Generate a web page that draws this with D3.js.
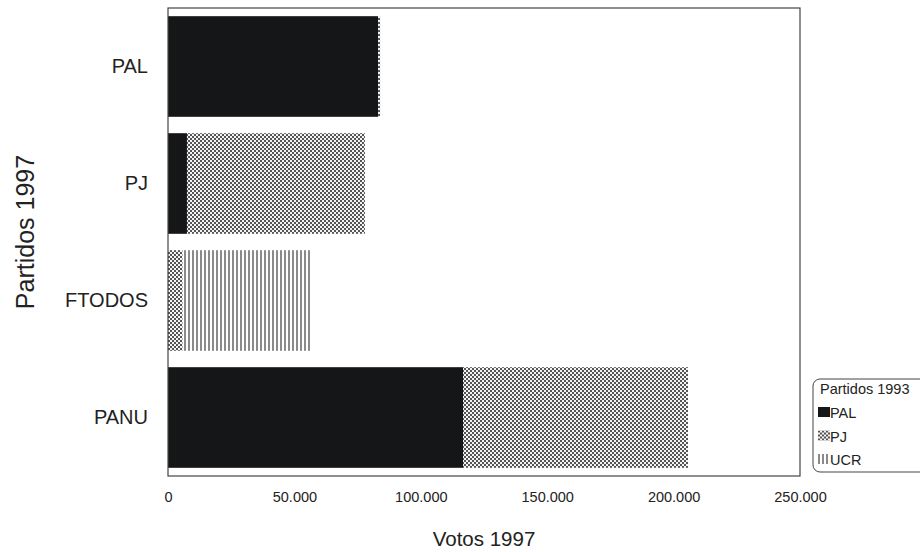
<!DOCTYPE html>
<html>
<head>
<meta charset="utf-8">
<script src="https://cdn.jsdelivr.net/npm/d3@7"></script>
<style>
body { margin: 0; background: #fff; }
text { font-family: "Liberation Sans", Arial, sans-serif; fill: #222; }
</style>
</head>
<body>
<svg width="920" height="552"></svg>
<script>
// data
var partidos97 = ["PAL", "PJ", "FTODOS", "PANU"];
var partidos93 = ["PAL", "PJ", "UCR"];
var votosPAL = [83100, 7500, 0, 116700];
var votosPJ = [800, 70400, 5800, 89000];
var votosUCR = [0, 0, 50800, 0];
var xTicks = [0, 50000, 100000, 150000, 200000, 250000];

var svg = d3.select("svg");
var mLeft = 168, mRight = 800, mTop = 8, mBottom = 476;

var defs = svg.append("defs");
var checker = defs.append("pattern").attr("id", "checker")
    .attr("width", 4).attr("height", 4).attr("patternUnits", "userSpaceOnUse");
checker.append("rect").attr("width", 4).attr("height", 4).attr("fill", "#f4f4f4");
checker.append("rect").attr("width", 2).attr("height", 2).attr("fill", "#555");
checker.append("rect").attr("x", 2).attr("y", 2).attr("width", 2).attr("height", 2).attr("fill", "#555");

var stripes = defs.append("pattern").attr("id", "stripes")
    .attr("width", 4).attr("height", 4).attr("patternUnits", "userSpaceOnUse");
stripes.append("rect").attr("width", 4).attr("height", 4).attr("fill", "#fff");
stripes.append("rect").attr("width", 2).attr("height", 4).attr("fill", "#8a8a8a");

var fills = ["#151618", "url(#checker)", "url(#stripes)"];

var x = d3.scaleLinear().domain([0, 250000]).range([mLeft, mRight]);
var y = d3.scaleBand().domain(partidos97).range([mTop, mBottom])
    .paddingInner(0.14).paddingOuter(0.07);

var rows = partidos97.map(function(p, i) {
    return { partido: p, PAL: votosPAL[i], PJ: votosPJ[i], UCR: votosUCR[i] };
});
var series = d3.stack().keys(partidos93)(rows);

svg.selectAll("g.serie")
    .data(series)
    .enter()
    .append("g")
    .attr("class", "serie")
    .attr("fill", function(d, i) { return fills[i]; })
    .selectAll("rect")
    .data(function(d) { return d; })
    .enter()
    .append("rect")
    .attr("x", function(d) { return x(d[0]); })
    .attr("width", function(d) { return x(d[1]) - x(d[0]); })
    .attr("y", function(d) { return y(d.data.partido); })
    .attr("height", y.bandwidth());

// plot frame
svg.append("rect")
    .attr("x", mLeft).attr("y", mTop)
    .attr("width", mRight - mLeft).attr("height", mBottom - mTop)
    .attr("fill", "none").attr("stroke", "#444").attr("stroke-width", 1.2);

// x axis
var xAxis = d3.axisBottom(x).tickValues(xTicks).tickSize(0).tickPadding(16)
    .tickFormat(function(d) { return d === 0 ? "0" : d3.format(",")(d).replace(/,/g, "."); });
var gx = svg.append("g").attr("transform", "translate(0," + mBottom + ")").call(xAxis);
gx.select(".domain").remove();
gx.selectAll("text").style("font-size", "14.5px").style("fill", "#222")
    .style("font-family", "Liberation Sans, Arial, sans-serif");

// y axis
var yAxis = d3.axisLeft(y).tickSize(0).tickPadding(20);
var gy = svg.append("g").attr("transform", "translate(" + mLeft + ",0)").call(yAxis);
gy.select(".domain").remove();
gy.selectAll("text").style("font-size", "20px").style("fill", "#222")
    .style("font-family", "Liberation Sans, Arial, sans-serif");

svg.append("text")
    .attr("x", (mLeft + mRight) / 2).attr("y", 546)
    .attr("text-anchor", "middle").style("font-size", "20.5px")
    .text("Votos 1997");

svg.append("text")
    .attr("transform", "translate(34,232) rotate(-90)")
    .attr("text-anchor", "middle").style("font-size", "25px")
    .text("Partidos 1997");

// legend
var legend = svg.append("g").attr("transform", "translate(813,379)");
legend.append("rect")
    .attr("width", 120).attr("height", 93).attr("rx", 7)
    .attr("fill", "#fff").attr("stroke", "#444");
legend.append("text").attr("x", 7).attr("y", 15).style("font-size", "14.5px").text("Partidos 1993");

var items = legend.selectAll("g.item")
    .data(partidos93)
    .enter()
    .append("g")
    .attr("class", "item")
    .attr("transform", function(d, i) { return "translate(5," + (28 + i * 23.5) + ")"; });
items.append("rect")
    .attr("width", 12).attr("height", 10)
    .attr("fill", function(d, i) { return fills[i]; });
items.append("text").attr("x", 12).attr("y", 11).style("font-size", "14.5px")
    .text(function(d) { return d; });
</script>
</body>
</html>
